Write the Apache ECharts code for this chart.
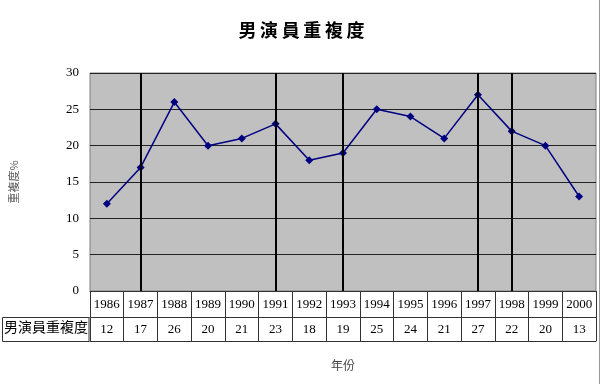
<!DOCTYPE html>
<html><head><meta charset="utf-8">
<script src="https://cdn.jsdelivr.net/npm/echarts@6/dist/echarts.min.js"></script>
<style>html,body{margin:0;padding:0;background:#fff}#c{width:603px;height:384px}</style>
</head><body><div id="c"></div>
<script>
const years = ['1986','1987','1988','1989','1990','1991','1992','1993','1994','1995','1996','1997','1998','1999','2000'];
const values = [12,17,26,20,21,23,18,19,25,24,21,27,22,20,13];
const markedYears = ['1987','1991','1993','1997','1998'];
const seriesName = '男演員重複度';
const yTicks = {min:0,max:30,interval:5};

const chart = echarts.init(document.getElementById('c'));
const serif = '"Liberation Serif","DejaVu Serif",serif';
const cjk = '"Noto Sans CJK TC","Noto Sans CJK SC",sans-serif';
chart.setOption({
  animation:false,
  title:{text:'男\u2009演\u2009員\u2009重\u2009複\u2009度',left:'center',top:16,
    textStyle:{fontFamily:cjk,fontSize:18,fontWeight:'bold',color:'#000'}},
  grid:{left:89,right:7,top:73,bottom:93,show:true,backgroundColor:'#c0c0c0',borderColor:'#808080',borderWidth:1},
  xAxis:[
    {type:'category',data:years,position:'bottom',boundaryGap:true,
      axisLine:{show:true,lineStyle:{color:'#333',width:1}},
      axisTick:{show:true,interval:0,length:26,lineStyle:{color:'#333'}},
      axisLabel:{interval:0,margin:7,fontFamily:serif,fontSize:13,color:'#000'},splitLine:{show:false}},
    {type:'category',data:values.map(String),position:'bottom',offset:26,boundaryGap:true,
      axisLine:{show:true,lineStyle:{color:'#333',width:1}},
      axisTick:{show:true,interval:0,length:24,lineStyle:{color:'#333'}},
      axisLabel:{interval:0,margin:6,fontFamily:serif,fontSize:13,color:'#000'},splitLine:{show:false}},
    {type:'category',data:years,position:'bottom',offset:50,boundaryGap:true,
      axisLine:{show:true,lineStyle:{color:'#333',width:1}},
      axisTick:{show:false},axisLabel:{show:false},splitLine:{show:false},
      name:'年份',nameLocation:'middle',nameGap:18,
      nameTextStyle:{fontFamily:cjk,fontSize:12,color:'#444'}}
  ],
  yAxis:{type:'value',min:yTicks.min,max:yTicks.max,interval:yTicks.interval,
    axisLine:{show:false},axisTick:{show:false},
    axisLabel:{margin:11,fontFamily:serif,fontSize:13,color:'#000'},
    splitLine:{show:true,lineStyle:{color:'#222',width:1}},
    name:'重複度%',nameLocation:'middle',nameGap:71,nameRotate:90,
    nameTextStyle:{fontFamily:cjk,fontSize:11,color:'#555'}},
  series:[{name:seriesName,type:'line',xAxisIndex:0,data:values,
    symbol:'diamond',symbolSize:8,
    lineStyle:{color:'#000080',width:1.5},itemStyle:{color:'#000080'},
    markLine:{silent:true,symbol:['none','none'],label:{show:false},
      lineStyle:{color:'#000',width:2,type:'solid'},
      data:markedYears.map(y=>({xAxis:y}))}}],
  graphic:[
    {type:'rect',shape:{x:2.5,y:317.5,width:86.5,height:24},style:{fill:'#fff',stroke:'#333',lineWidth:1}},
    {type:'text',left:4,top:320,style:{text:seriesName,font:'14px '+cjk,fill:'#000'}},
    {type:'line',shape:{x1:599.5,y1:0,x2:599.5,y2:384},style:{stroke:'#999',lineWidth:1}}
  ]
});
</script></body></html>
